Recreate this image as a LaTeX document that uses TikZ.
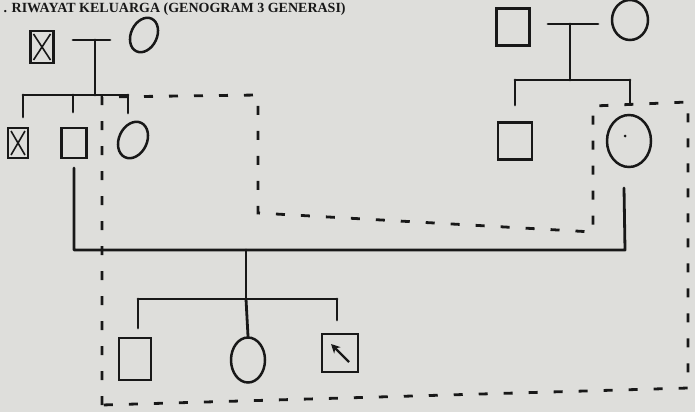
\documentclass[tikz,border=0pt]{standalone}
\usepackage{tikz}
\usepackage{fontspec}
\setmainfont{Liberation Serif}
\usetikzlibrary{shapes.geometric, arrows.meta}
\definecolor{paper}{RGB}{222,222,219}
\definecolor{ink}{RGB}{24,24,24}
\tikzstyle{link} = [draw=ink, line width=2.8pt, line cap=round, line join=round]
\tikzstyle{house} = [draw=ink, line width=2.8pt, dash pattern=on 9pt off 16pt]

\begin{document}
\begin{tikzpicture}[x=1pt, y=-1pt,
    male/.style={rectangle, draw=ink, line width=2.5pt, inner sep=0pt, minimum width=24pt, minimum height=30pt},
    female/.style={ellipse, draw=ink, line width=2.5pt, inner sep=0pt, minimum width=28pt, minimum height=34pt},
    dead/.style={male, path picture={\draw[ink, line width=1.6pt] ([shift={(3pt,-3pt)}]path picture bounding box.north west) -- ([shift={(-3pt,3pt)}]path picture bounding box.south east) ([shift={(-3pt,-3pt)}]path picture bounding box.north east) -- ([shift={(3pt,3pt)}]path picture bounding box.south west);}}
  ]
    \clip (0,0) rectangle (695,412);
    \fill[paper] (0,0) rectangle (695,412);
    \node[anchor=base west, font=\bfseries\fontsize{14}{14}\selectfont, text=ink] (title) at (0,12.5) {. RIWAYAT KELUARGA (GENOGRAM 3 GENERASI)};

    % Father's side
    \node[dead, minimum width=23pt, minimum height=32pt] (gf1) at (42,47) {};
    \node[female, rotate=-25, minimum width=26pt, minimum height=36pt] (gm1) at (144,35) {};
    \coordinate (m1l) at (73,40);
    \coordinate (m1r) at (110,40);
    \coordinate (m1) at (95,40);
    \coordinate (s1) at (95,95);
    \coordinate (s1a) at (23,95);
    \coordinate (s1b) at (73,95);
    \coordinate (s1c) at (128,95);
    \node[dead, minimum width=20pt, minimum height=30pt] (unc1) at (18,143) {};
    \node[male, minimum width=25pt, minimum height=30pt] (father) at (74,143) {};
    \node[female, rotate=-25, minimum width=28pt, minimum height=38pt] (aunt1) at (133,140) {};
    \draw[link] (m1l) -- (m1r);
    \draw[link] (m1) -- (s1);
    \draw[link] (s1a) -- (s1c);
    \draw[link] (s1a) -- ++(0,22);
    \draw[link] (s1b) -- ++(0,17);
    \draw[link] (s1c) -- ++(0,18);

    % Mother's side
    \node[male, minimum width=33pt, minimum height=37pt] (gf2) at (513,27) {};
    \node[female, minimum width=36pt, minimum height=40pt] (gm2) at (630,20) {};
    \coordinate (m2l) at (548,24);
    \coordinate (m2r) at (598,24);
    \coordinate (m2) at (570,24);
    \coordinate (s2) at (570,80);
    \coordinate (s2a) at (515,80);
    \coordinate (s2b) at (630,80);
    \node[male, minimum width=34pt, minimum height=37pt] (unc2) at (515,141) {};
    \node[female, minimum width=44pt, minimum height=52pt] (mother) at (629,141) {};
    \fill[ink] (mother.center) ++(-4,-5) circle (1.5pt);
    \draw[link] (m2l) -- (m2r);
    \draw[link] (m2) -- (s2);
    \draw[link] (s2a) -- (s2b);
    \draw[link] (s2a) -- ++(0,25);
    \draw[link] (s2b) -- ++(0,23);

    % Parents and children
    \coordinate (fa) at (74,168);
    \coordinate (cpl) at (74,250);
    \coordinate (cpr) at (625,250);
    \coordinate (mo) at (624,188);
    \coordinate (cp) at (246,250);
    \coordinate (s3) at (246,299);
    \coordinate (s3a) at (138,299);
    \coordinate (s3c) at (337,299);
    \node[male, minimum width=32pt, minimum height=42pt] (bro) at (135,359) {};
    \node[female, minimum width=34pt, minimum height=45pt] (sis) at (248,360) {};
    \node[male, minimum width=36pt, minimum height=38pt] (me) at (340,353) {};
    \draw[link] (fa) -- (cpl) -- (cpr) -- (mo);
    \draw[link] (cp) -- (s3);
    \draw[link] (s3a) -- (s3c);
    \draw[link] (s3a) -- ++(0,29);
    \draw[link] (s3) -- (sis.north);
    \draw[link] (s3c) -- ++(0,21);
    \draw[ink, line width=2.4pt, -{Stealth[length=9pt, width=9pt]}] ([shift={(9pt,-9pt)}]me.center) -- ([shift={(-9pt,9pt)}]me.center);

    % Household
    \draw[house] (102,405) -- (102,97) -- (258,95) -- (258,213) -- (593,232) -- (593,106) -- (688,102) -- (688,388) -- cycle;
  \end{tikzpicture}
\end{document}
